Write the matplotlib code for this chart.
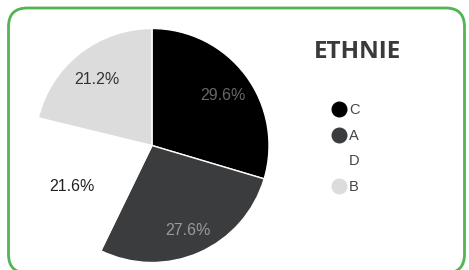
import matplotlib.pyplot as plt
from matplotlib.patches import FancyBboxPatch
from matplotlib.lines import Line2D

categories = ["C", "A", "D", "B"]
values = [29.6, 27.6, 21.6, 21.2]
colors = ["#000000", "#3b3c3e", "#ffffff", "#dcdcdc"]
label_colors = ["#686868", "#9a9a9a", "#222222", "#333333"]
title = "ETHNIE"

W, H = 469, 270
fig = plt.figure(figsize=(W / 100, H / 100), dpi=100)
fig.patch.set_facecolor("white")

# rounded green frame (top at y=8 px, bottom just below the image)
frame = FancyBboxPatch((8.5 / W, -3 / H), (464.5 - 8.5) / W, (262 + 3) / H,
                       boxstyle="round,pad=0,rounding_size=0.04",
                       transform=fig.transFigure, facecolor="none",
                       edgecolor="#52b452", linewidth=2.0, clip_on=False,
                       mutation_aspect=W / H, zorder=5)
fig.patches.append(frame)

# pie axes: center (152,145), radius ~117 px
r = 117
cx, cy = 152, 145.5
ax = fig.add_axes([(cx - r) / W, (H - cy - r) / H, 2 * r / W, 2 * r / H])
wedges, texts = ax.pie(values, colors=colors, startangle=90, counterclock=False,
                       labels=[f"{v:.1f}%" for v in values], labeldistance=0.76,
                       wedgeprops=dict(edgecolor="white", linewidth=1.0))
for t, c in zip(texts, label_colors):
    t.set_color(c)
    t.set_fontsize(11.5)
    t.set_family("Liberation Sans")
    t.set_ha("center")
    t.set_va("center")
    x, y = t.get_position()
    t.set_position((x, y - 0.03))
ax.set_xlim(-1, 1)
ax.set_ylim(-1, 1)
ax.set_aspect("equal")
ax.axis("off")

fig.text(357 / W, 1 - 52 / H, title, fontsize=17.5, fontweight="bold",
         color="#3a3a3a", family="Open Sans", ha="center", va="center")

handles = [Line2D([], [], marker="o", linestyle="none", markersize=10.5,
                  markerfacecolor=c, markeredgecolor=c) for c in colors]
leg = fig.legend(handles, categories, loc="upper left",
                 bbox_to_anchor=(320 / W, 1 - 90 / H), frameon=False,
                 handlelength=0.8, handletextpad=0.3, labelspacing=0.8,
                 prop={"family": "Liberation Sans", "size": 10.5})
for t in leg.get_texts():
    t.set_color("#444444")

fig.savefig("out.png", dpi=100, facecolor="white")
